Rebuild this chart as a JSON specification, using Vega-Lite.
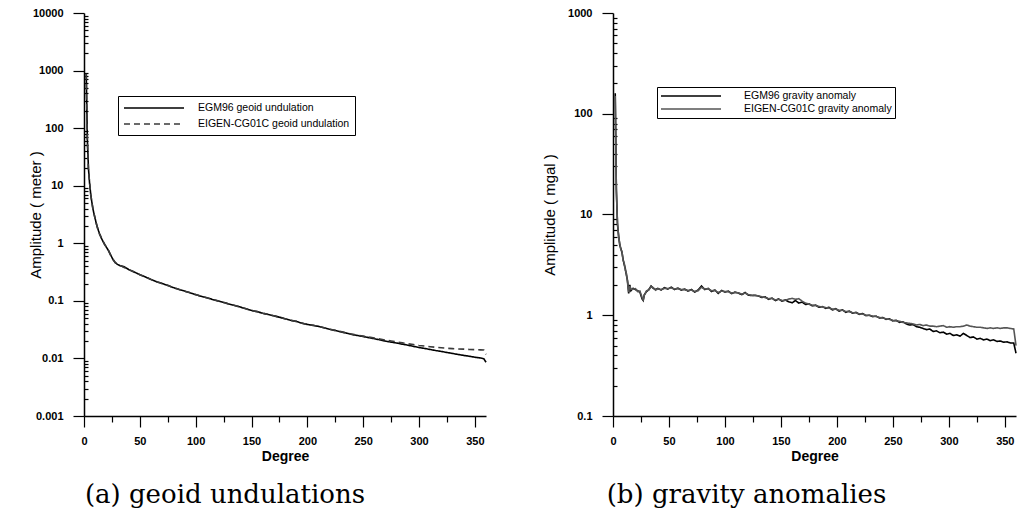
{
  "$schema": "https://vega.github.io/schema/vega-lite/v6.json",
  "background": "white",
  "padding": {"left": 28, "top": 7, "right": 2, "bottom": 2},
  "spacing": 127,
  "bounds": "flush",
  "config": {
    "font": "Liberation Sans",
    "view": {"stroke": null},
    "axis": {"grid": false, "domainColor": "black", "domainWidth": 1.5, "tickColor": "black", "tickWidth": 1.2, "labelFont": "Liberation Sans", "labelFontWeight": "bold", "labelFontSize": 11, "labelColor": "black", "titleFont": "Liberation Sans", "titleFontWeight": "bold", "titleFontSize": 14, "titleColor": "black", "labelFlush": false, "labelOverlap": false},
    "legend": {"orient": "none", "title": null, "strokeColor": "black", "fillColor": "white", "labelFont": "Liberation Sans", "labelColor": "black", "symbolStrokeWidth": 1.3, "symbolFillColor": "transparent"},
    "title": {"font": "DejaVu Serif", "fontWeight": "normal", "color": "black"}
  },
  "datasets": {
    "geoid": [
      {"d":2,"v":900,"s":"EGM96 geoid undulation"},{"d":3,"v":65,"s":"EGM96 geoid undulation"},{"d":4,"v":20,"s":"EGM96 geoid undulation"},{"d":5,"v":11,"s":"EGM96 geoid undulation"},{"d":6,"v":7.2,"s":"EGM96 geoid undulation"},{"d":7,"v":5.2,"s":"EGM96 geoid undulation"},{"d":8,"v":4.0,"s":"EGM96 geoid undulation"},{"d":9,"v":3.2,"s":"EGM96 geoid undulation"},{"d":10,"v":2.7,"s":"EGM96 geoid undulation"},{"d":11,"v":2.2,"s":"EGM96 geoid undulation"},{"d":12,"v":1.9,"s":"EGM96 geoid undulation"},{"d":13,"v":1.65,"s":"EGM96 geoid undulation"},{"d":14,"v":1.45,"s":"EGM96 geoid undulation"},{"d":15,"v":1.3,"s":"EGM96 geoid undulation"},{"d":16,"v":1.18,"s":"EGM96 geoid undulation"},{"d":17,"v":1.08,"s":"EGM96 geoid undulation"},{"d":18,"v":1.0,"s":"EGM96 geoid undulation"},{"d":19,"v":0.92,"s":"EGM96 geoid undulation"},{"d":20,"v":0.86,"s":"EGM96 geoid undulation"},{"d":22,"v":0.74,"s":"EGM96 geoid undulation"},{"d":24,"v":0.62,"s":"EGM96 geoid undulation"},{"d":26,"v":0.52,"s":"EGM96 geoid undulation"},{"d":28,"v":0.46,"s":"EGM96 geoid undulation"},{"d":30,"v":0.43,"s":"EGM96 geoid undulation"},{"d":32,"v":0.41,"s":"EGM96 geoid undulation"},{"d":34,"v":0.4,"s":"EGM96 geoid undulation"},{"d":36,"v":0.39,"s":"EGM96 geoid undulation"},{"d":38,"v":0.37,"s":"EGM96 geoid undulation"},{"d":40,"v":0.35,"s":"EGM96 geoid undulation"},{"d":43,"v":0.33,"s":"EGM96 geoid undulation"},{"d":46,"v":0.31,"s":"EGM96 geoid undulation"},{"d":50,"v":0.285,"s":"EGM96 geoid undulation"},{"d":55,"v":0.26,"s":"EGM96 geoid undulation"},{"d":60,"v":0.235,"s":"EGM96 geoid undulation"},{"d":65,"v":0.215,"s":"EGM96 geoid undulation"},{"d":70,"v":0.2,"s":"EGM96 geoid undulation"},{"d":75,"v":0.185,"s":"EGM96 geoid undulation"},{"d":80,"v":0.17,"s":"EGM96 geoid undulation"},{"d":85,"v":0.158,"s":"EGM96 geoid undulation"},{"d":90,"v":0.148,"s":"EGM96 geoid undulation"},{"d":95,"v":0.138,"s":"EGM96 geoid undulation"},{"d":100,"v":0.128,"s":"EGM96 geoid undulation"},{"d":105,"v":0.12,"s":"EGM96 geoid undulation"},{"d":110,"v":0.113,"s":"EGM96 geoid undulation"},{"d":115,"v":0.106,"s":"EGM96 geoid undulation"},{"d":120,"v":0.1,"s":"EGM96 geoid undulation"},{"d":125,"v":0.094,"s":"EGM96 geoid undulation"},{"d":130,"v":0.088,"s":"EGM96 geoid undulation"},{"d":135,"v":0.083,"s":"EGM96 geoid undulation"},{"d":140,"v":0.078,"s":"EGM96 geoid undulation"},{"d":145,"v":0.073,"s":"EGM96 geoid undulation"},{"d":150,"v":0.068,"s":"EGM96 geoid undulation"},{"d":155,"v":0.065,"s":"EGM96 geoid undulation"},{"d":160,"v":0.061,"s":"EGM96 geoid undulation"},{"d":165,"v":0.058,"s":"EGM96 geoid undulation"},{"d":170,"v":0.055,"s":"EGM96 geoid undulation"},{"d":175,"v":0.052,"s":"EGM96 geoid undulation"},{"d":180,"v":0.049,"s":"EGM96 geoid undulation"},{"d":185,"v":0.046,"s":"EGM96 geoid undulation"},{"d":190,"v":0.044,"s":"EGM96 geoid undulation"},{"d":195,"v":0.041,"s":"EGM96 geoid undulation"},{"d":200,"v":0.039,"s":"EGM96 geoid undulation"},{"d":205,"v":0.0375,"s":"EGM96 geoid undulation"},{"d":210,"v":0.036,"s":"EGM96 geoid undulation"},{"d":215,"v":0.034,"s":"EGM96 geoid undulation"},{"d":220,"v":0.032,"s":"EGM96 geoid undulation"},{"d":225,"v":0.0305,"s":"EGM96 geoid undulation"},{"d":230,"v":0.029,"s":"EGM96 geoid undulation"},{"d":235,"v":0.0275,"s":"EGM96 geoid undulation"},{"d":240,"v":0.026,"s":"EGM96 geoid undulation"},{"d":245,"v":0.025,"s":"EGM96 geoid undulation"},{"d":250,"v":0.024,"s":"EGM96 geoid undulation"},{"d":255,"v":0.023,"s":"EGM96 geoid undulation"},{"d":260,"v":0.022,"s":"EGM96 geoid undulation"},{"d":265,"v":0.021,"s":"EGM96 geoid undulation"},{"d":270,"v":0.02,"s":"EGM96 geoid undulation"},{"d":275,"v":0.0192,"s":"EGM96 geoid undulation"},{"d":280,"v":0.0185,"s":"EGM96 geoid undulation"},{"d":285,"v":0.0177,"s":"EGM96 geoid undulation"},{"d":290,"v":0.017,"s":"EGM96 geoid undulation"},{"d":295,"v":0.0162,"s":"EGM96 geoid undulation"},{"d":300,"v":0.0155,"s":"EGM96 geoid undulation"},{"d":305,"v":0.0149,"s":"EGM96 geoid undulation"},{"d":310,"v":0.0143,"s":"EGM96 geoid undulation"},{"d":315,"v":0.0137,"s":"EGM96 geoid undulation"},{"d":320,"v":0.0132,"s":"EGM96 geoid undulation"},{"d":325,"v":0.0127,"s":"EGM96 geoid undulation"},{"d":330,"v":0.0122,"s":"EGM96 geoid undulation"},{"d":335,"v":0.0117,"s":"EGM96 geoid undulation"},{"d":340,"v":0.0113,"s":"EGM96 geoid undulation"},{"d":345,"v":0.0109,"s":"EGM96 geoid undulation"},{"d":350,"v":0.0105,"s":"EGM96 geoid undulation"},{"d":355,"v":0.0102,"s":"EGM96 geoid undulation"},{"d":358,"v":0.0099,"s":"EGM96 geoid undulation"},{"d":360,"v":0.0086,"s":"EGM96 geoid undulation"},
      {"d":2,"v":880,"s":"EIGEN-CG01C geoid undulation"},{"d":3,"v":60,"s":"EIGEN-CG01C geoid undulation"},{"d":4,"v":19,"s":"EIGEN-CG01C geoid undulation"},{"d":5,"v":11.5,"s":"EIGEN-CG01C geoid undulation"},{"d":6,"v":7.0,"s":"EIGEN-CG01C geoid undulation"},{"d":7,"v":5.3,"s":"EIGEN-CG01C geoid undulation"},{"d":8,"v":3.9,"s":"EIGEN-CG01C geoid undulation"},{"d":9,"v":3.3,"s":"EIGEN-CG01C geoid undulation"},{"d":10,"v":2.6,"s":"EIGEN-CG01C geoid undulation"},{"d":11,"v":2.25,"s":"EIGEN-CG01C geoid undulation"},{"d":12,"v":1.85,"s":"EIGEN-CG01C geoid undulation"},{"d":13,"v":1.68,"s":"EIGEN-CG01C geoid undulation"},{"d":14,"v":1.42,"s":"EIGEN-CG01C geoid undulation"},{"d":15,"v":1.32,"s":"EIGEN-CG01C geoid undulation"},{"d":16,"v":1.16,"s":"EIGEN-CG01C geoid undulation"},{"d":17,"v":1.1,"s":"EIGEN-CG01C geoid undulation"},{"d":18,"v":0.98,"s":"EIGEN-CG01C geoid undulation"},{"d":19,"v":0.93,"s":"EIGEN-CG01C geoid undulation"},{"d":20,"v":0.85,"s":"EIGEN-CG01C geoid undulation"},{"d":22,"v":0.75,"s":"EIGEN-CG01C geoid undulation"},{"d":24,"v":0.61,"s":"EIGEN-CG01C geoid undulation"},{"d":26,"v":0.53,"s":"EIGEN-CG01C geoid undulation"},{"d":28,"v":0.46,"s":"EIGEN-CG01C geoid undulation"},{"d":30,"v":0.44,"s":"EIGEN-CG01C geoid undulation"},{"d":32,"v":0.41,"s":"EIGEN-CG01C geoid undulation"},{"d":34,"v":0.4,"s":"EIGEN-CG01C geoid undulation"},{"d":36,"v":0.38,"s":"EIGEN-CG01C geoid undulation"},{"d":38,"v":0.37,"s":"EIGEN-CG01C geoid undulation"},{"d":40,"v":0.35,"s":"EIGEN-CG01C geoid undulation"},{"d":43,"v":0.33,"s":"EIGEN-CG01C geoid undulation"},{"d":46,"v":0.31,"s":"EIGEN-CG01C geoid undulation"},{"d":50,"v":0.284,"s":"EIGEN-CG01C geoid undulation"},{"d":55,"v":0.26,"s":"EIGEN-CG01C geoid undulation"},{"d":60,"v":0.236,"s":"EIGEN-CG01C geoid undulation"},{"d":65,"v":0.214,"s":"EIGEN-CG01C geoid undulation"},{"d":70,"v":0.2,"s":"EIGEN-CG01C geoid undulation"},{"d":75,"v":0.186,"s":"EIGEN-CG01C geoid undulation"},{"d":80,"v":0.17,"s":"EIGEN-CG01C geoid undulation"},{"d":85,"v":0.159,"s":"EIGEN-CG01C geoid undulation"},{"d":90,"v":0.147,"s":"EIGEN-CG01C geoid undulation"},{"d":95,"v":0.138,"s":"EIGEN-CG01C geoid undulation"},{"d":100,"v":0.129,"s":"EIGEN-CG01C geoid undulation"},{"d":105,"v":0.12,"s":"EIGEN-CG01C geoid undulation"},{"d":110,"v":0.113,"s":"EIGEN-CG01C geoid undulation"},{"d":115,"v":0.106,"s":"EIGEN-CG01C geoid undulation"},{"d":120,"v":0.1,"s":"EIGEN-CG01C geoid undulation"},{"d":125,"v":0.094,"s":"EIGEN-CG01C geoid undulation"},{"d":130,"v":0.088,"s":"EIGEN-CG01C geoid undulation"},{"d":135,"v":0.083,"s":"EIGEN-CG01C geoid undulation"},{"d":140,"v":0.078,"s":"EIGEN-CG01C geoid undulation"},{"d":145,"v":0.073,"s":"EIGEN-CG01C geoid undulation"},{"d":150,"v":0.068,"s":"EIGEN-CG01C geoid undulation"},{"d":155,"v":0.065,"s":"EIGEN-CG01C geoid undulation"},{"d":160,"v":0.061,"s":"EIGEN-CG01C geoid undulation"},{"d":165,"v":0.058,"s":"EIGEN-CG01C geoid undulation"},{"d":170,"v":0.055,"s":"EIGEN-CG01C geoid undulation"},{"d":175,"v":0.052,"s":"EIGEN-CG01C geoid undulation"},{"d":180,"v":0.049,"s":"EIGEN-CG01C geoid undulation"},{"d":185,"v":0.046,"s":"EIGEN-CG01C geoid undulation"},{"d":190,"v":0.044,"s":"EIGEN-CG01C geoid undulation"},{"d":195,"v":0.041,"s":"EIGEN-CG01C geoid undulation"},{"d":200,"v":0.039,"s":"EIGEN-CG01C geoid undulation"},{"d":205,"v":0.0376,"s":"EIGEN-CG01C geoid undulation"},{"d":210,"v":0.036,"s":"EIGEN-CG01C geoid undulation"},{"d":215,"v":0.034,"s":"EIGEN-CG01C geoid undulation"},{"d":220,"v":0.0322,"s":"EIGEN-CG01C geoid undulation"},{"d":225,"v":0.0307,"s":"EIGEN-CG01C geoid undulation"},{"d":230,"v":0.0292,"s":"EIGEN-CG01C geoid undulation"},{"d":235,"v":0.0278,"s":"EIGEN-CG01C geoid undulation"},{"d":240,"v":0.0264,"s":"EIGEN-CG01C geoid undulation"},{"d":245,"v":0.0254,"s":"EIGEN-CG01C geoid undulation"},{"d":250,"v":0.0244,"s":"EIGEN-CG01C geoid undulation"},{"d":255,"v":0.0235,"s":"EIGEN-CG01C geoid undulation"},{"d":260,"v":0.0226,"s":"EIGEN-CG01C geoid undulation"},{"d":265,"v":0.0217,"s":"EIGEN-CG01C geoid undulation"},{"d":270,"v":0.0208,"s":"EIGEN-CG01C geoid undulation"},{"d":275,"v":0.0201,"s":"EIGEN-CG01C geoid undulation"},{"d":280,"v":0.0194,"s":"EIGEN-CG01C geoid undulation"},{"d":285,"v":0.0187,"s":"EIGEN-CG01C geoid undulation"},{"d":290,"v":0.018,"s":"EIGEN-CG01C geoid undulation"},{"d":295,"v":0.0174,"s":"EIGEN-CG01C geoid undulation"},{"d":300,"v":0.0168,"s":"EIGEN-CG01C geoid undulation"},{"d":305,"v":0.0164,"s":"EIGEN-CG01C geoid undulation"},{"d":310,"v":0.016,"s":"EIGEN-CG01C geoid undulation"},{"d":315,"v":0.0156,"s":"EIGEN-CG01C geoid undulation"},{"d":320,"v":0.0153,"s":"EIGEN-CG01C geoid undulation"},{"d":325,"v":0.015,"s":"EIGEN-CG01C geoid undulation"},{"d":330,"v":0.0148,"s":"EIGEN-CG01C geoid undulation"},{"d":335,"v":0.0146,"s":"EIGEN-CG01C geoid undulation"},{"d":340,"v":0.0145,"s":"EIGEN-CG01C geoid undulation"},{"d":345,"v":0.0143,"s":"EIGEN-CG01C geoid undulation"},{"d":350,"v":0.0142,"s":"EIGEN-CG01C geoid undulation"},{"d":355,"v":0.0141,"s":"EIGEN-CG01C geoid undulation"},{"d":358,"v":0.014,"s":"EIGEN-CG01C geoid undulation"},{"d":360,"v":0.0118,"s":"EIGEN-CG01C geoid undulation"}
    ],
    "grav": [
      {"d":2,"v":160,"s":"EGM96 gravity anomaly"},{"d":3,"v":18,"s":"EGM96 gravity anomaly"},{"d":4,"v":8,"s":"EGM96 gravity anomaly"},{"d":5,"v":6.2,"s":"EGM96 gravity anomaly"},{"d":6,"v":5.0,"s":"EGM96 gravity anomaly"},{"d":7,"v":4.6,"s":"EGM96 gravity anomaly"},{"d":8,"v":4.2,"s":"EGM96 gravity anomaly"},{"d":9,"v":3.6,"s":"EGM96 gravity anomaly"},{"d":10,"v":3.2,"s":"EGM96 gravity anomaly"},{"d":11,"v":2.9,"s":"EGM96 gravity anomaly"},{"d":12,"v":2.5,"s":"EGM96 gravity anomaly"},{"d":13,"v":2.2,"s":"EGM96 gravity anomaly"},{"d":14,"v":1.65,"s":"EGM96 gravity anomaly"},{"d":15,"v":2.0,"s":"EGM96 gravity anomaly"},{"d":16,"v":1.75,"s":"EGM96 gravity anomaly"},{"d":18,"v":1.85,"s":"EGM96 gravity anomaly"},{"d":20,"v":1.8,"s":"EGM96 gravity anomaly"},{"d":22,"v":1.75,"s":"EGM96 gravity anomaly"},{"d":24,"v":1.7,"s":"EGM96 gravity anomaly"},{"d":26,"v":1.45,"s":"EGM96 gravity anomaly"},{"d":27,"v":1.4,"s":"EGM96 gravity anomaly"},{"d":28,"v":1.6,"s":"EGM96 gravity anomaly"},{"d":30,"v":1.72,"s":"EGM96 gravity anomaly"},{"d":32,"v":1.8,"s":"EGM96 gravity anomaly"},{"d":34,"v":1.95,"s":"EGM96 gravity anomaly"},{"d":36,"v":1.85,"s":"EGM96 gravity anomaly"},{"d":38,"v":1.8,"s":"EGM96 gravity anomaly"},{"d":40,"v":1.85,"s":"EGM96 gravity anomaly"},{"d":43,"v":1.78,"s":"EGM96 gravity anomaly"},{"d":46,"v":1.88,"s":"EGM96 gravity anomaly"},{"d":49,"v":1.82,"s":"EGM96 gravity anomaly"},{"d":52,"v":1.9,"s":"EGM96 gravity anomaly"},{"d":55,"v":1.8,"s":"EGM96 gravity anomaly"},{"d":58,"v":1.86,"s":"EGM96 gravity anomaly"},{"d":61,"v":1.78,"s":"EGM96 gravity anomaly"},{"d":64,"v":1.82,"s":"EGM96 gravity anomaly"},{"d":67,"v":1.74,"s":"EGM96 gravity anomaly"},{"d":70,"v":1.8,"s":"EGM96 gravity anomaly"},{"d":73,"v":1.7,"s":"EGM96 gravity anomaly"},{"d":76,"v":1.78,"s":"EGM96 gravity anomaly"},{"d":79,"v":1.95,"s":"EGM96 gravity anomaly"},{"d":82,"v":1.8,"s":"EGM96 gravity anomaly"},{"d":85,"v":1.85,"s":"EGM96 gravity anomaly"},{"d":88,"v":1.72,"s":"EGM96 gravity anomaly"},{"d":91,"v":1.78,"s":"EGM96 gravity anomaly"},{"d":94,"v":1.65,"s":"EGM96 gravity anomaly"},{"d":97,"v":1.76,"s":"EGM96 gravity anomaly"},{"d":100,"v":1.7,"s":"EGM96 gravity anomaly"},{"d":103,"v":1.74,"s":"EGM96 gravity anomaly"},{"d":106,"v":1.64,"s":"EGM96 gravity anomaly"},{"d":109,"v":1.7,"s":"EGM96 gravity anomaly"},{"d":112,"v":1.66,"s":"EGM96 gravity anomaly"},{"d":115,"v":1.6,"s":"EGM96 gravity anomaly"},{"d":118,"v":1.68,"s":"EGM96 gravity anomaly"},{"d":121,"v":1.58,"s":"EGM96 gravity anomaly"},{"d":124,"v":1.57,"s":"EGM96 gravity anomaly"},{"d":127,"v":1.58,"s":"EGM96 gravity anomaly"},{"d":130,"v":1.55,"s":"EGM96 gravity anomaly"},{"d":133,"v":1.5,"s":"EGM96 gravity anomaly"},{"d":136,"v":1.52,"s":"EGM96 gravity anomaly"},{"d":139,"v":1.44,"s":"EGM96 gravity anomaly"},{"d":142,"v":1.48,"s":"EGM96 gravity anomaly"},{"d":145,"v":1.4,"s":"EGM96 gravity anomaly"},{"d":148,"v":1.45,"s":"EGM96 gravity anomaly"},{"d":151,"v":1.38,"s":"EGM96 gravity anomaly"},{"d":154,"v":1.42,"s":"EGM96 gravity anomaly"},{"d":157,"v":1.36,"s":"EGM96 gravity anomaly"},{"d":160,"v":1.33,"s":"EGM96 gravity anomaly"},{"d":163,"v":1.4,"s":"EGM96 gravity anomaly"},{"d":166,"v":1.32,"s":"EGM96 gravity anomaly"},{"d":169,"v":1.35,"s":"EGM96 gravity anomaly"},{"d":172,"v":1.28,"s":"EGM96 gravity anomaly"},{"d":175,"v":1.3,"s":"EGM96 gravity anomaly"},{"d":178,"v":1.24,"s":"EGM96 gravity anomaly"},{"d":181,"v":1.26,"s":"EGM96 gravity anomaly"},{"d":184,"v":1.2,"s":"EGM96 gravity anomaly"},{"d":187,"v":1.22,"s":"EGM96 gravity anomaly"},{"d":190,"v":1.17,"s":"EGM96 gravity anomaly"},{"d":193,"v":1.2,"s":"EGM96 gravity anomaly"},{"d":196,"v":1.13,"s":"EGM96 gravity anomaly"},{"d":199,"v":1.16,"s":"EGM96 gravity anomaly"},{"d":202,"v":1.1,"s":"EGM96 gravity anomaly"},{"d":205,"v":1.13,"s":"EGM96 gravity anomaly"},{"d":208,"v":1.07,"s":"EGM96 gravity anomaly"},{"d":211,"v":1.1,"s":"EGM96 gravity anomaly"},{"d":214,"v":1.05,"s":"EGM96 gravity anomaly"},{"d":217,"v":1.07,"s":"EGM96 gravity anomaly"},{"d":220,"v":1.02,"s":"EGM96 gravity anomaly"},{"d":223,"v":1.04,"s":"EGM96 gravity anomaly"},{"d":226,"v":0.99,"s":"EGM96 gravity anomaly"},{"d":229,"v":1.0,"s":"EGM96 gravity anomaly"},{"d":232,"v":0.97,"s":"EGM96 gravity anomaly"},{"d":235,"v":0.98,"s":"EGM96 gravity anomaly"},{"d":238,"v":0.94,"s":"EGM96 gravity anomaly"},{"d":241,"v":0.95,"s":"EGM96 gravity anomaly"},{"d":244,"v":0.91,"s":"EGM96 gravity anomaly"},{"d":247,"v":0.92,"s":"EGM96 gravity anomaly"},{"d":250,"v":0.88,"s":"EGM96 gravity anomaly"},{"d":253,"v":0.89,"s":"EGM96 gravity anomaly"},{"d":256,"v":0.85,"s":"EGM96 gravity anomaly"},{"d":259,"v":0.86,"s":"EGM96 gravity anomaly"},{"d":262,"v":0.82,"s":"EGM96 gravity anomaly"},{"d":265,"v":0.8,"s":"EGM96 gravity anomaly"},{"d":268,"v":0.81,"s":"EGM96 gravity anomaly"},{"d":271,"v":0.77,"s":"EGM96 gravity anomaly"},{"d":274,"v":0.76,"s":"EGM96 gravity anomaly"},{"d":277,"v":0.74,"s":"EGM96 gravity anomaly"},{"d":280,"v":0.72,"s":"EGM96 gravity anomaly"},{"d":283,"v":0.73,"s":"EGM96 gravity anomaly"},{"d":286,"v":0.69,"s":"EGM96 gravity anomaly"},{"d":289,"v":0.7,"s":"EGM96 gravity anomaly"},{"d":292,"v":0.67,"s":"EGM96 gravity anomaly"},{"d":295,"v":0.68,"s":"EGM96 gravity anomaly"},{"d":298,"v":0.65,"s":"EGM96 gravity anomaly"},{"d":301,"v":0.66,"s":"EGM96 gravity anomaly"},{"d":304,"v":0.63,"s":"EGM96 gravity anomaly"},{"d":307,"v":0.64,"s":"EGM96 gravity anomaly"},{"d":310,"v":0.62,"s":"EGM96 gravity anomaly"},{"d":313,"v":0.66,"s":"EGM96 gravity anomaly"},{"d":316,"v":0.63,"s":"EGM96 gravity anomaly"},{"d":319,"v":0.6,"s":"EGM96 gravity anomaly"},{"d":322,"v":0.61,"s":"EGM96 gravity anomaly"},{"d":325,"v":0.58,"s":"EGM96 gravity anomaly"},{"d":328,"v":0.59,"s":"EGM96 gravity anomaly"},{"d":331,"v":0.57,"s":"EGM96 gravity anomaly"},{"d":334,"v":0.58,"s":"EGM96 gravity anomaly"},{"d":337,"v":0.56,"s":"EGM96 gravity anomaly"},{"d":340,"v":0.57,"s":"EGM96 gravity anomaly"},{"d":343,"v":0.55,"s":"EGM96 gravity anomaly"},{"d":346,"v":0.555,"s":"EGM96 gravity anomaly"},{"d":349,"v":0.54,"s":"EGM96 gravity anomaly"},{"d":352,"v":0.545,"s":"EGM96 gravity anomaly"},{"d":355,"v":0.53,"s":"EGM96 gravity anomaly"},{"d":358,"v":0.53,"s":"EGM96 gravity anomaly"},{"d":360,"v":0.42,"s":"EGM96 gravity anomaly"},
      {"d":2,"v":150,"s":"EIGEN-CG01C gravity anomaly"},{"d":3,"v":17,"s":"EIGEN-CG01C gravity anomaly"},{"d":4,"v":8.3,"s":"EIGEN-CG01C gravity anomaly"},{"d":5,"v":6.0,"s":"EIGEN-CG01C gravity anomaly"},{"d":6,"v":5.2,"s":"EIGEN-CG01C gravity anomaly"},{"d":7,"v":4.5,"s":"EIGEN-CG01C gravity anomaly"},{"d":8,"v":4.3,"s":"EIGEN-CG01C gravity anomaly"},{"d":9,"v":3.5,"s":"EIGEN-CG01C gravity anomaly"},{"d":10,"v":3.3,"s":"EIGEN-CG01C gravity anomaly"},{"d":11,"v":2.8,"s":"EIGEN-CG01C gravity anomaly"},{"d":12,"v":2.6,"s":"EIGEN-CG01C gravity anomaly"},{"d":13,"v":2.1,"s":"EIGEN-CG01C gravity anomaly"},{"d":14,"v":1.7,"s":"EIGEN-CG01C gravity anomaly"},{"d":15,"v":1.95,"s":"EIGEN-CG01C gravity anomaly"},{"d":16,"v":1.8,"s":"EIGEN-CG01C gravity anomaly"},{"d":18,"v":1.82,"s":"EIGEN-CG01C gravity anomaly"},{"d":20,"v":1.84,"s":"EIGEN-CG01C gravity anomaly"},{"d":22,"v":1.72,"s":"EIGEN-CG01C gravity anomaly"},{"d":24,"v":1.74,"s":"EIGEN-CG01C gravity anomaly"},{"d":26,"v":1.5,"s":"EIGEN-CG01C gravity anomaly"},{"d":27,"v":1.42,"s":"EIGEN-CG01C gravity anomaly"},{"d":28,"v":1.58,"s":"EIGEN-CG01C gravity anomaly"},{"d":30,"v":1.75,"s":"EIGEN-CG01C gravity anomaly"},{"d":32,"v":1.78,"s":"EIGEN-CG01C gravity anomaly"},{"d":34,"v":1.92,"s":"EIGEN-CG01C gravity anomaly"},{"d":36,"v":1.88,"s":"EIGEN-CG01C gravity anomaly"},{"d":38,"v":1.77,"s":"EIGEN-CG01C gravity anomaly"},{"d":40,"v":1.83,"s":"EIGEN-CG01C gravity anomaly"},{"d":43,"v":1.8,"s":"EIGEN-CG01C gravity anomaly"},{"d":46,"v":1.85,"s":"EIGEN-CG01C gravity anomaly"},{"d":49,"v":1.84,"s":"EIGEN-CG01C gravity anomaly"},{"d":52,"v":1.87,"s":"EIGEN-CG01C gravity anomaly"},{"d":55,"v":1.82,"s":"EIGEN-CG01C gravity anomaly"},{"d":58,"v":1.84,"s":"EIGEN-CG01C gravity anomaly"},{"d":61,"v":1.8,"s":"EIGEN-CG01C gravity anomaly"},{"d":64,"v":1.79,"s":"EIGEN-CG01C gravity anomaly"},{"d":67,"v":1.76,"s":"EIGEN-CG01C gravity anomaly"},{"d":70,"v":1.78,"s":"EIGEN-CG01C gravity anomaly"},{"d":73,"v":1.72,"s":"EIGEN-CG01C gravity anomaly"},{"d":76,"v":1.75,"s":"EIGEN-CG01C gravity anomaly"},{"d":79,"v":1.9,"s":"EIGEN-CG01C gravity anomaly"},{"d":82,"v":1.82,"s":"EIGEN-CG01C gravity anomaly"},{"d":85,"v":1.83,"s":"EIGEN-CG01C gravity anomaly"},{"d":88,"v":1.75,"s":"EIGEN-CG01C gravity anomaly"},{"d":91,"v":1.76,"s":"EIGEN-CG01C gravity anomaly"},{"d":94,"v":1.68,"s":"EIGEN-CG01C gravity anomaly"},{"d":97,"v":1.74,"s":"EIGEN-CG01C gravity anomaly"},{"d":100,"v":1.72,"s":"EIGEN-CG01C gravity anomaly"},{"d":103,"v":1.71,"s":"EIGEN-CG01C gravity anomaly"},{"d":106,"v":1.66,"s":"EIGEN-CG01C gravity anomaly"},{"d":109,"v":1.68,"s":"EIGEN-CG01C gravity anomaly"},{"d":112,"v":1.67,"s":"EIGEN-CG01C gravity anomaly"},{"d":115,"v":1.62,"s":"EIGEN-CG01C gravity anomaly"},{"d":118,"v":1.66,"s":"EIGEN-CG01C gravity anomaly"},{"d":121,"v":1.6,"s":"EIGEN-CG01C gravity anomaly"},{"d":124,"v":1.58,"s":"EIGEN-CG01C gravity anomaly"},{"d":127,"v":1.56,"s":"EIGEN-CG01C gravity anomaly"},{"d":130,"v":1.56,"s":"EIGEN-CG01C gravity anomaly"},{"d":133,"v":1.52,"s":"EIGEN-CG01C gravity anomaly"},{"d":136,"v":1.5,"s":"EIGEN-CG01C gravity anomaly"},{"d":139,"v":1.46,"s":"EIGEN-CG01C gravity anomaly"},{"d":142,"v":1.47,"s":"EIGEN-CG01C gravity anomaly"},{"d":145,"v":1.42,"s":"EIGEN-CG01C gravity anomaly"},{"d":148,"v":1.44,"s":"EIGEN-CG01C gravity anomaly"},{"d":151,"v":1.4,"s":"EIGEN-CG01C gravity anomaly"},{"d":154,"v":1.41,"s":"EIGEN-CG01C gravity anomaly"},{"d":157,"v":1.45,"s":"EIGEN-CG01C gravity anomaly"},{"d":160,"v":1.47,"s":"EIGEN-CG01C gravity anomaly"},{"d":163,"v":1.44,"s":"EIGEN-CG01C gravity anomaly"},{"d":166,"v":1.46,"s":"EIGEN-CG01C gravity anomaly"},{"d":169,"v":1.38,"s":"EIGEN-CG01C gravity anomaly"},{"d":172,"v":1.32,"s":"EIGEN-CG01C gravity anomaly"},{"d":175,"v":1.29,"s":"EIGEN-CG01C gravity anomaly"},{"d":178,"v":1.26,"s":"EIGEN-CG01C gravity anomaly"},{"d":181,"v":1.25,"s":"EIGEN-CG01C gravity anomaly"},{"d":184,"v":1.22,"s":"EIGEN-CG01C gravity anomaly"},{"d":187,"v":1.21,"s":"EIGEN-CG01C gravity anomaly"},{"d":190,"v":1.19,"s":"EIGEN-CG01C gravity anomaly"},{"d":193,"v":1.18,"s":"EIGEN-CG01C gravity anomaly"},{"d":196,"v":1.15,"s":"EIGEN-CG01C gravity anomaly"},{"d":199,"v":1.15,"s":"EIGEN-CG01C gravity anomaly"},{"d":202,"v":1.12,"s":"EIGEN-CG01C gravity anomaly"},{"d":205,"v":1.12,"s":"EIGEN-CG01C gravity anomaly"},{"d":208,"v":1.09,"s":"EIGEN-CG01C gravity anomaly"},{"d":211,"v":1.09,"s":"EIGEN-CG01C gravity anomaly"},{"d":214,"v":1.06,"s":"EIGEN-CG01C gravity anomaly"},{"d":217,"v":1.06,"s":"EIGEN-CG01C gravity anomaly"},{"d":220,"v":1.03,"s":"EIGEN-CG01C gravity anomaly"},{"d":223,"v":1.03,"s":"EIGEN-CG01C gravity anomaly"},{"d":226,"v":1.0,"s":"EIGEN-CG01C gravity anomaly"},{"d":229,"v":1.0,"s":"EIGEN-CG01C gravity anomaly"},{"d":232,"v":0.98,"s":"EIGEN-CG01C gravity anomaly"},{"d":235,"v":0.97,"s":"EIGEN-CG01C gravity anomaly"},{"d":238,"v":0.95,"s":"EIGEN-CG01C gravity anomaly"},{"d":241,"v":0.94,"s":"EIGEN-CG01C gravity anomaly"},{"d":244,"v":0.92,"s":"EIGEN-CG01C gravity anomaly"},{"d":247,"v":0.91,"s":"EIGEN-CG01C gravity anomaly"},{"d":250,"v":0.89,"s":"EIGEN-CG01C gravity anomaly"},{"d":253,"v":0.88,"s":"EIGEN-CG01C gravity anomaly"},{"d":256,"v":0.87,"s":"EIGEN-CG01C gravity anomaly"},{"d":259,"v":0.85,"s":"EIGEN-CG01C gravity anomaly"},{"d":262,"v":0.84,"s":"EIGEN-CG01C gravity anomaly"},{"d":265,"v":0.83,"s":"EIGEN-CG01C gravity anomaly"},{"d":268,"v":0.82,"s":"EIGEN-CG01C gravity anomaly"},{"d":271,"v":0.8,"s":"EIGEN-CG01C gravity anomaly"},{"d":274,"v":0.81,"s":"EIGEN-CG01C gravity anomaly"},{"d":277,"v":0.79,"s":"EIGEN-CG01C gravity anomaly"},{"d":280,"v":0.8,"s":"EIGEN-CG01C gravity anomaly"},{"d":283,"v":0.78,"s":"EIGEN-CG01C gravity anomaly"},{"d":286,"v":0.78,"s":"EIGEN-CG01C gravity anomaly"},{"d":289,"v":0.77,"s":"EIGEN-CG01C gravity anomaly"},{"d":292,"v":0.78,"s":"EIGEN-CG01C gravity anomaly"},{"d":295,"v":0.79,"s":"EIGEN-CG01C gravity anomaly"},{"d":298,"v":0.76,"s":"EIGEN-CG01C gravity anomaly"},{"d":301,"v":0.77,"s":"EIGEN-CG01C gravity anomaly"},{"d":304,"v":0.76,"s":"EIGEN-CG01C gravity anomaly"},{"d":307,"v":0.77,"s":"EIGEN-CG01C gravity anomaly"},{"d":310,"v":0.77,"s":"EIGEN-CG01C gravity anomaly"},{"d":313,"v":0.78,"s":"EIGEN-CG01C gravity anomaly"},{"d":316,"v":0.8,"s":"EIGEN-CG01C gravity anomaly"},{"d":319,"v":0.78,"s":"EIGEN-CG01C gravity anomaly"},{"d":322,"v":0.77,"s":"EIGEN-CG01C gravity anomaly"},{"d":325,"v":0.76,"s":"EIGEN-CG01C gravity anomaly"},{"d":328,"v":0.76,"s":"EIGEN-CG01C gravity anomaly"},{"d":331,"v":0.75,"s":"EIGEN-CG01C gravity anomaly"},{"d":334,"v":0.74,"s":"EIGEN-CG01C gravity anomaly"},{"d":337,"v":0.75,"s":"EIGEN-CG01C gravity anomaly"},{"d":340,"v":0.74,"s":"EIGEN-CG01C gravity anomaly"},{"d":343,"v":0.75,"s":"EIGEN-CG01C gravity anomaly"},{"d":346,"v":0.74,"s":"EIGEN-CG01C gravity anomaly"},{"d":349,"v":0.75,"s":"EIGEN-CG01C gravity anomaly"},{"d":352,"v":0.75,"s":"EIGEN-CG01C gravity anomaly"},{"d":355,"v":0.74,"s":"EIGEN-CG01C gravity anomaly"},{"d":358,"v":0.73,"s":"EIGEN-CG01C gravity anomaly"},{"d":360,"v":0.5,"s":"EIGEN-CG01C gravity anomaly"}
    ]
  },
  "hconcat": [
    {
      "width": 402,
      "height": 403,
      "data": {"name": "geoid"},
      "title": {"text": "(a) geoid undulations", "orient": "bottom", "fontSize": 26, "anchor": "middle", "offset": 19, "dx": -60},
      "mark": {"type": "line", "strokeWidth": 1.6},
      "encoding": {
        "x": {"field": "d", "type": "quantitative", "scale": {"domain": [0, 360], "nice": false, "zero": false},
              "axis": {"title": "Degree", "values": [0, 25, 50, 75, 100, 125, 150, 175, 200, 225, 250, 275, 300, 325, 350],
                       "labelExpr": "datum.value % 50 == 0 ? datum.label : ''",
                       "tickSize": {"condition": {"test": "datum.value % 50 == 0", "value": 11}, "value": 6},
                       "labelPadding": 8, "titlePadding": 3}},
        "y": {"field": "v", "type": "quantitative", "scale": {"type": "log", "domain": [0.001, 10000], "nice": false},
              "axis": {"title": "Amplitude ( meter )", "format": "~g",
                       "values": [0.001,0.002,0.003,0.004,0.005,0.006,0.007,0.008,0.009,0.01,0.02,0.03,0.04,0.05,0.06,0.07,0.08,0.09,0.1,0.2,0.3,0.4,0.5,0.6,0.7,0.8,0.9,1,2,3,4,5,6,7,8,9,10,20,30,40,50,60,70,80,90,100,200,300,400,500,600,700,800,900,1000,2000,3000,4000,5000,6000,7000,8000,9000,10000],
                       "labelExpr": "abs(log(datum.value)/LN10 - round(log(datum.value)/LN10)) < 0.000001 ? format(datum.value, '~g') : ''",
                       "tickSize": {"condition": {"test": "abs(log(datum.value)/LN10 - round(log(datum.value)/LN10)) < 0.000001", "value": 11}, "value": -4},
                       "labelPadding": 10, "titleX": -41, "titleY": 201.5, "titleAngle": -90, "titleFontWeight": "normal", "titleFontSize": 15}},
        "color": {"field": "s", "type": "nominal", "sort": ["EGM96 geoid undulation", "EIGEN-CG01C geoid undulation"],
                  "scale": {"domain": ["EGM96 geoid undulation", "EIGEN-CG01C geoid undulation"], "range": ["black", "#3a3a3a"]},
                  "legend": {"legendX": 34, "legendY": 83, "padding": 5, "rowPadding": 3, "labelOffset": 61, "labelFontSize": 10.5, "symbolSize": 144, "symbolType": "M-1,0H9"}},
        "strokeDash": {"field": "s", "type": "nominal", "sort": ["EGM96 geoid undulation", "EIGEN-CG01C geoid undulation"],
                  "scale": {"domain": ["EGM96 geoid undulation", "EIGEN-CG01C geoid undulation"], "range": [[1, 0], [6, 4]]},
                  "legend": {"legendX": 34, "legendY": 83, "padding": 5, "rowPadding": 3, "labelOffset": 61, "labelFontSize": 10.5, "symbolSize": 144, "symbolType": "M-1,0H9"}}
      }
    },
    {
      "width": 403,
      "height": 403,
      "data": {"name": "grav"},
      "title": {"text": "(b) gravity anomalies", "orient": "bottom", "fontSize": 26, "anchor": "middle", "offset": 19, "dx": -68},
      "mark": {"type": "line", "strokeWidth": 1.6},
      "encoding": {
        "x": {"field": "d", "type": "quantitative", "scale": {"domain": [0, 360], "nice": false, "zero": false},
              "axis": {"title": "Degree", "values": [0, 25, 50, 75, 100, 125, 150, 175, 200, 225, 250, 275, 300, 325, 350],
                       "labelExpr": "datum.value % 50 == 0 ? datum.label : ''",
                       "tickSize": {"condition": {"test": "datum.value % 50 == 0", "value": 11}, "value": 6},
                       "labelPadding": 8, "titlePadding": 3}},
        "y": {"field": "v", "type": "quantitative", "scale": {"type": "log", "domain": [0.1, 1000], "nice": false},
              "axis": {"title": "Amplitude ( mgal )", "format": "~g",
                       "values": [0.1,0.2,0.3,0.4,0.5,0.6,0.7,0.8,0.9,1,2,3,4,5,6,7,8,9,10,20,30,40,50,60,70,80,90,100,200,300,400,500,600,700,800,900,1000],
                       "labelExpr": "abs(log(datum.value)/LN10 - round(log(datum.value)/LN10)) < 0.000001 ? format(datum.value, '~g') : ''",
                       "tickSize": {"condition": {"test": "abs(log(datum.value)/LN10 - round(log(datum.value)/LN10)) < 0.000001", "value": 11}, "value": -4},
                       "labelPadding": 10, "titleX": -56, "titleY": 201.5, "titleAngle": -90, "titleFontWeight": "normal", "titleFontSize": 15}},
        "color": {"field": "s", "type": "nominal", "sort": ["EGM96 gravity anomaly", "EIGEN-CG01C gravity anomaly"],
                  "scale": {"domain": ["EGM96 gravity anomaly", "EIGEN-CG01C gravity anomaly"], "range": ["black", "#555555"]},
                  "legend": {"legendX": 44, "legendY": 74, "padding": 3, "rowPadding": 1, "labelOffset": 72, "labelFontSize": 10.5, "symbolSize": 100, "symbolType": "M-1,0H11"}},
        "strokeDash": {"field": "s", "type": "nominal", "sort": ["EGM96 gravity anomaly", "EIGEN-CG01C gravity anomaly"],
                  "scale": {"domain": ["EGM96 gravity anomaly", "EIGEN-CG01C gravity anomaly"], "range": [[1, 0], [1, 0]]},
                  "legend": {"legendX": 44, "legendY": 74, "padding": 3, "rowPadding": 1, "labelOffset": 72, "labelFontSize": 10.5, "symbolSize": 100, "symbolType": "M-1,0H11"}}
      }
    }
  ],
  "resolve": {"scale": {"color": "independent", "strokeDash": "independent"}, "legend": {"color": "independent", "strokeDash": "independent"}}
}
